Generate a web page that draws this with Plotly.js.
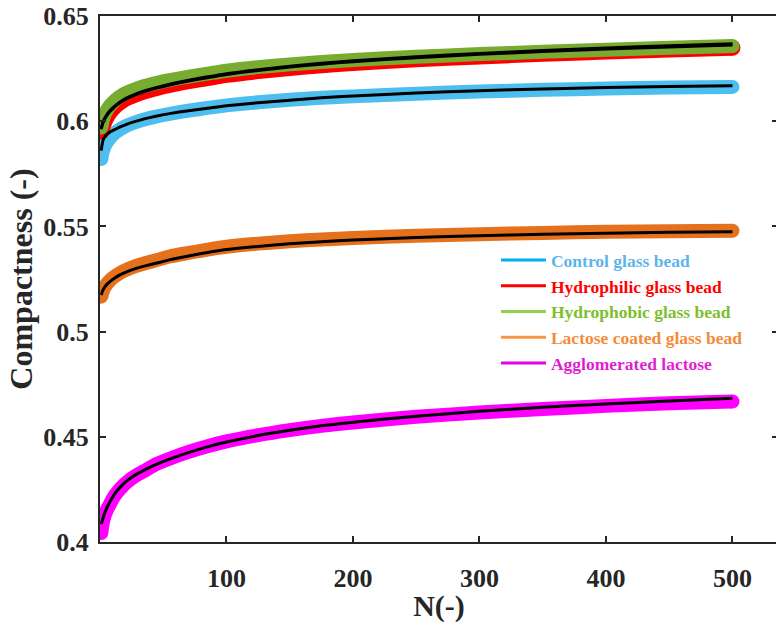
<!DOCTYPE html>
<html>
<head>
<meta charset="utf-8">
<script src="https://cdn.plot.ly/plotly-3.0.1.min.js"></script>
<style>html,body{margin:0;padding:0;background:#fff;overflow:hidden;}#chart{width:778px;height:623px;}</style>
</head>
<body>
<div id="chart"></div>
<script>
// Cycle number N
const N = [1, 2, 3, 4, 6, 8, 10, 13, 17, 22, 28, 35, 45, 55, 70, 85, 100, 125, 150, 175, 200, 250, 300, 350, 400, 450, 500];

// Measured compactness (thick coloured curves)
const controlData     = [0.5820, 0.5852, 0.5871, 0.5885, 0.5906, 0.5921, 0.5934, 0.5950, 0.5966, 0.5981, 0.5995, 0.6008, 0.6023, 0.6035, 0.6050, 0.6063, 0.6075, 0.6090, 0.6102, 0.6111, 0.6118, 0.6131, 0.6141, 0.6149, 0.6155, 0.6160, 0.6163];
const hydrophilicData = [0.5950, 0.5972, 0.5990, 0.6004, 0.6027, 0.6045, 0.6059, 0.6077, 0.6095, 0.6112, 0.6127, 0.6142, 0.6158, 0.6172, 0.6190, 0.6205, 0.6220, 0.6238, 0.6253, 0.6266, 0.6277, 0.6294, 0.6308, 0.6320, 0.6331, 0.6341, 0.6349];
const hydrophobicData = [0.5970, 0.6000, 0.6020, 0.6035, 0.6058, 0.6075, 0.6088, 0.6105, 0.6122, 0.6138, 0.6153, 0.6167, 0.6182, 0.6195, 0.6212, 0.6226, 0.6240, 0.6257, 0.6270, 0.6281, 0.6291, 0.6306, 0.6319, 0.6330, 0.6340, 0.6349, 0.6357];
const lactoseCoatData = [0.5166, 0.5188, 0.5203, 0.5214, 0.5231, 0.5244, 0.5255, 0.5268, 0.5283, 0.5297, 0.5311, 0.5324, 0.5340, 0.5357, 0.5374, 0.5390, 0.5403, 0.5418, 0.5429, 0.5438, 0.5445, 0.5455, 0.5463, 0.5469, 0.5474, 0.5477, 0.5479];
const agglomLactData  = [0.4043, 0.4085, 0.4112, 0.4132, 0.4160, 0.4182, 0.4205, 0.4232, 0.4260, 0.4288, 0.4314, 0.4338, 0.4372, 0.4396, 0.4428, 0.4455, 0.4478, 0.4508, 0.4532, 0.4552, 0.4568, 0.4595, 0.4615, 0.4632, 0.4647, 0.4659, 0.4668];

// Fitted curves (black lines)
const controlFit      = [0.5860, 0.5900, 0.5918, 0.5928, 0.5940, 0.5949, 0.5955, 0.5964, 0.5975, 0.5987, 0.5999, 0.6011, 0.6025, 0.6036, 0.6050, 0.6062, 0.6073, 0.6088, 0.6100, 0.6111, 0.6120, 0.6134, 0.6145, 0.6153, 0.6160, 0.6165, 0.6169];
const hydrophilicFit  = [0.5962, 0.5985, 0.6001, 0.6013, 0.6032, 0.6047, 0.6059, 0.6075, 0.6092, 0.6109, 0.6125, 0.6140, 0.6157, 0.6172, 0.6191, 0.6207, 0.6222, 0.6241, 0.6257, 0.6271, 0.6283, 0.6302, 0.6318, 0.6331, 0.6343, 0.6353, 0.6362];
const hydrophobicFit  = [0.5968, 0.5990, 0.6005, 0.6017, 0.6036, 0.6051, 0.6063, 0.6079, 0.6096, 0.6113, 0.6129, 0.6144, 0.6161, 0.6176, 0.6195, 0.6211, 0.6226, 0.6245, 0.6261, 0.6275, 0.6287, 0.6306, 0.6322, 0.6336, 0.6348, 0.6359, 0.6368];
const lactoseCoatFit  = [0.5174, 0.5193, 0.5205, 0.5214, 0.5228, 0.5239, 0.5248, 0.5260, 0.5273, 0.5286, 0.5299, 0.5311, 0.5326, 0.5341, 0.5359, 0.5376, 0.5390, 0.5405, 0.5417, 0.5427, 0.5435, 0.5447, 0.5456, 0.5463, 0.5468, 0.5472, 0.5475];
const agglomLactFit   = [0.4085, 0.4105, 0.4125, 0.4142, 0.4170, 0.4193, 0.4213, 0.4240, 0.4267, 0.4294, 0.4319, 0.4342, 0.4370, 0.4394, 0.4425, 0.4452, 0.4475, 0.4506, 0.4531, 0.4552, 0.4569, 0.4598, 0.4621, 0.4640, 0.4656, 0.4670, 0.4683];

const seriesNames      = ["Control glass bead", "Hydrophilic glass bead", "Hydrophobic glass bead", "Lactose coated glass bead", "Agglomerated lactose"];
const curveColors      = ["#4DBEEE", "#FF0000", "#77AC30", "#E5711C", "#FF00FF"];
const legendLineColors = ["#00B0F0", "#FF0000", "#92D050", "#F79646", "#E600E6"];
const legendTextColors = ["#5BB5EC", "#FF0000", "#7DC02E", "#F58A38", "#E01ED0"];
const xTicks = [100, 200, 300, 400, 500];
const yTicks = [0.4, 0.45, 0.5, 0.55, 0.6, 0.65];

const dataSets = [controlData, hydrophilicData, hydrophobicData, lactoseCoatData, agglomLactData];
const fitSets  = [controlFit, hydrophilicFit, hydrophobicFit, lactoseCoatFit, agglomLactFit];
const widths   = [14, 16, 14, 14, 14];

const traces = [];
dataSets.forEach((ys, i) => {
  traces.push({
    x: N, y: ys, type: 'scatter', mode: 'lines',
    line: {color: curveColors[i], width: widths[i], shape: 'spline', smoothing: 0.6},
    showlegend: false, hoverinfo: 'skip'
  });
  traces.push({
    x: [N[0], N[N.length - 1]], y: [ys[0], ys[ys.length - 1]], type: 'scatter', mode: 'markers',
    marker: {color: curveColors[i], size: widths[i]},
    showlegend: false, hoverinfo: 'skip'
  });
});
fitSets.forEach((ys) => {
  traces.push({
    x: N, y: ys, type: 'scatter', mode: 'lines',
    line: {color: '#000000', width: 3, shape: 'spline', smoothing: 0.6},
    showlegend: false, hoverinfo: 'skip'
  });
});
seriesNames.forEach((name, i) => {
  traces.push({
    x: [null], y: [null], type: 'scatter', mode: 'lines',
    name: '<span style="color:' + legendTextColors[i] + '">' + name + '</span>',
    line: {color: legendLineColors[i], width: 3},
    showlegend: true
  });
});

const serif = '"Liberation Serif", "Times New Roman", serif';
const axisFont = {family: serif, size: 26, color: '#262626', weight: 'bold'};

const layout = {
  width: 778, height: 623,
  margin: {l: 100, r: 0, t: 16, b: 81},
  paper_bgcolor: '#ffffff', plot_bgcolor: '#ffffff',
  showlegend: true,
  legend: {
    x: 0.584, y: 0.57, xanchor: 'left', yanchor: 'top',
    bgcolor: 'rgba(255,255,255,0)', borderwidth: 0,
    font: {family: serif, size: 17.5, weight: 'bold'},
    itemwidth: 45, tracegroupgap: 0
  },
  xaxis: {
    range: [0, 536], tickvals: xTicks, ticktext: xTicks.map(String),
    ticks: 'inside', ticklen: 6, tickwidth: 2, tickcolor: '#262626',
    showline: true, linecolor: '#262626', linewidth: 2, mirror: 'ticks',
    showgrid: false, zeroline: false,
    tickfont: axisFont, ticklabelstandoff: 12,
    title: {text: 'N(-)', font: {family: serif, size: 30, color: '#262626', weight: 'bold'}, standoff: 8}
  },
  yaxis: {
    range: [0.4, 0.65], tickvals: yTicks, ticktext: yTicks.map(String),
    ticks: 'inside', ticklen: 6, tickwidth: 2, tickcolor: '#262626',
    showline: true, linecolor: '#262626', linewidth: 2, mirror: 'ticks',
    showgrid: false, zeroline: false,
    tickfont: axisFont, ticklabelstandoff: 4,
    title: {text: 'Compactness (-)', font: {family: serif, size: 32, color: '#262626', weight: 'bold'}, standoff: 1}
  }
};

Plotly.newPlot('chart', traces, layout, {displayModeBar: false, staticPlot: true});
</script>
</body>
</html>
